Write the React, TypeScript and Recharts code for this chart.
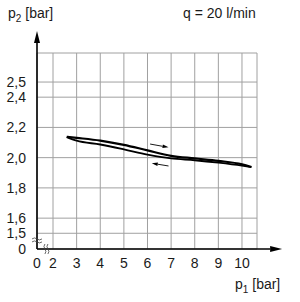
import {
  LineChart,
  Line,
  XAxis,
  YAxis,
  CartesianGrid,
  ReferenceLine,
  ReferenceDot,
} from "recharts"

const FONT = "'Liberation Sans', Arial, sans-serif"

// hysteresis loop, p1 rising (upper) and falling (lower)
const upperP1 = [2.58, 3, 4, 5, 6, 7, 8, 9, 10, 10.4]
const upperP2 = [2.138, 2.131, 2.113, 2.085, 2.048, 2.012, 1.995, 1.979, 1.956, 1.938]
const lowerP1 = [2.58, 3, 4, 5, 6, 7, 8, 9, 10, 10.4]
const lowerP2 = [2.136, 2.112, 2.087, 2.055, 2.02, 1.995, 1.983, 1.967, 1.947, 1.937]

// broken axes: first tick stands for 0
const xTicks = [1.322, 2, 3, 4, 5, 6, 7, 8, 9, 10, 10.636]
const xTickLabels = ["0", "2", "3", "4", "5", "6", "7", "8", "9", "10", ""]
const yTicks = [1.396, 1.5, 1.6, 1.8, 2.0, 2.2, 2.4, 2.5, 2.692]
const yTickLabels = ["0", "1,5", "1,6", "1,8", "2,0", "2,2", "2,4", "2,5", ""]

const upper = upperP1.map((p1, i) => ({ p1, p2: upperP2[i] }))
const lower = lowerP1.map((p1, i) => ({ p1, p2: lowerP2[i] }))

const X0 = xTicks[0]
const Y0 = yTicks[0]

function arrow(head: number, width: number, sw: number) {
  return (p: any) => {
    const { x1, y1, x2, y2 } = p
    const a = Math.atan2(y2 - y1, x2 - x1)
    const bx = x2 - head * Math.cos(a)
    const by = y2 - head * Math.sin(a)
    const nx = (-Math.sin(a) * width) / 2
    const ny = (Math.cos(a) * width) / 2
    return (
      <g>
        <line x1={x1} y1={y1} x2={bx} y2={by} stroke="#000" strokeWidth={sw} />
        <polygon points={`${x2},${y2} ${bx + nx},${by + ny} ${bx - nx},${by - ny}`} fill="#000" />
      </g>
    )
  }
}

const breakY = (p: any) => (
  <g fill="none" stroke="#444" strokeWidth={0.8}>
    <path d={`M${p.cx - 5},${p.cy - 1} q2.5,-2 5,0 t5,0`} />
    <path d={`M${p.cx - 5},${p.cy + 2} q2.5,-2 5,0 t5,0`} />
  </g>
)

const breakX = (p: any) => (
  <g fill="none" stroke="#444" strokeWidth={0.8}>
    <path d={`M${p.cx - 1},${p.cy - 5} q-2,2.5 0,5 t0,5`} />
    <path d={`M${p.cx + 2},${p.cy - 5} q-2,2.5 0,5 t0,5`} />
  </g>
)

const tickStyle = { fontSize: 14, fill: "#1a1a1a", fontFamily: FONT }

export default function App() {
  return (
    <div style={{ position: "relative", width: 300, height: 302, fontFamily: FONT, color: "#1a1a1a" }}>
      <style>{"body{margin:0}"}</style>
      <div style={{ position: "absolute", left: 8, top: 5, fontSize: 14 }}>
        p<sub style={{ fontSize: 10, verticalAlign: -4 }}>2</sub> [bar]
      </div>
      <div style={{ position: "absolute", left: 183, top: 5, fontSize: 14 }}>q = 20 l/min</div>
      <div style={{ position: "absolute", left: 235, top: 276, fontSize: 14 }}>
        p<sub style={{ fontSize: 10, verticalAlign: -4 }}>1</sub> [bar]
      </div>
      <LineChart width={300} height={302} margin={{ top: 53, right: 43, bottom: 0, left: 0 }}>
        <CartesianGrid stroke="#a0a0a0" strokeWidth={1} />
        <XAxis
          type="number"
          dataKey="p1"
          domain={[xTicks[0], xTicks[xTicks.length - 1]]}
          ticks={xTicks}
          interval={0}
          tickFormatter={(v) => xTickLabels[xTicks.indexOf(v)]}
          axisLine={false}
          tickLine={false}
          tickSize={0}
          tickMargin={9}
          height={53}
          tick={tickStyle}
          allowDataOverflow
        />
        <YAxis
          type="number"
          dataKey="p2"
          domain={[yTicks[0], yTicks[yTicks.length - 1]]}
          ticks={yTicks}
          interval={0}
          tickFormatter={(v) => yTickLabels[yTicks.indexOf(v)]}
          axisLine={false}
          tickLine={false}
          tickSize={0}
          tickMargin={11}
          width={37}
          tick={tickStyle}
          allowDataOverflow
        />
        <Line data={upper} dataKey="p2" type="monotone" stroke="#000" strokeWidth={2.2} dot={false} isAnimationActive={false} />
        <Line data={lower} dataKey="p2" type="monotone" stroke="#000" strokeWidth={1.9} dot={false} isAnimationActive={false} />
        <ReferenceLine
          segment={[{ x: 6.11, y: 2.09 }, { x: 6.89, y: 2.068 }]}
          shape={arrow(6, 3.5, 0.9)}
        />
        <ReferenceLine
          segment={[{ x: 6.89, y: 1.945 }, { x: 6.18, y: 1.963 }]}
          shape={arrow(6, 3.5, 0.9)}
        />
        <ReferenceLine
          segment={[{ x: X0, y: Y0 }, { x: X0, y: 2.837 }]}
          ifOverflow="visible"
          shape={arrow(12, 6, 1.6)}
        />
        <ReferenceLine
          segment={[{ x: X0, y: Y0 }, { x: 11.7, y: Y0 }]}
          ifOverflow="visible"
          shape={arrow(12, 6, 1.6)}
        />
        <ReferenceDot x={X0} y={1.456} r={0} shape={breakY} />
        <ReferenceDot x={1.7} y={Y0} r={0} shape={breakX} />
      </LineChart>
    </div>
  )
}
